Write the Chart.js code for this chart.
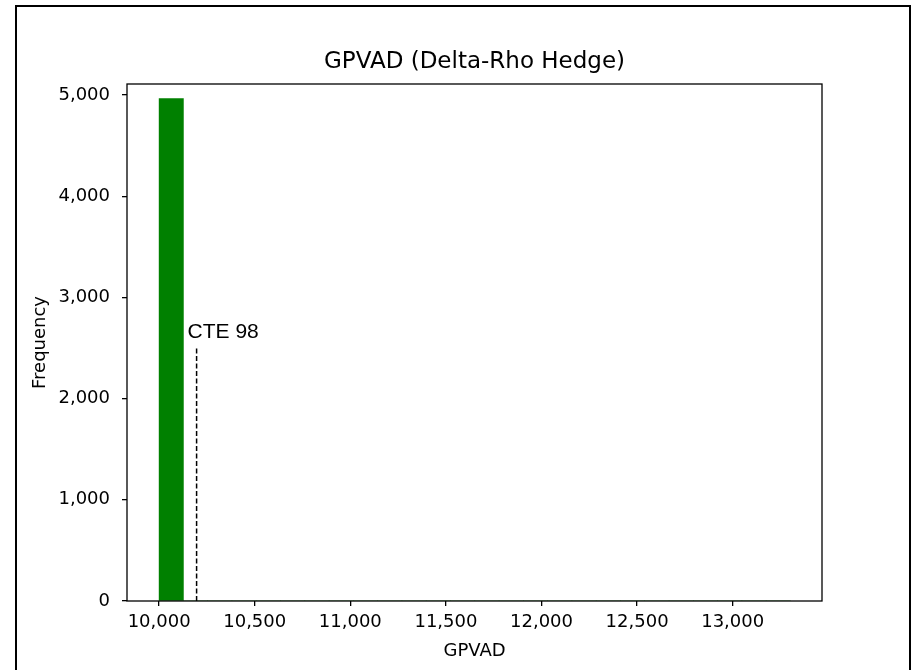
<!DOCTYPE html>
<html>
<head>
<meta charset="utf-8">
<title>GPVAD (Delta-Rho Hedge)</title>
<script src="https://cdn.jsdelivr.net/npm/chart.js@4.4.1/dist/chart.umd.min.js"></script>
<style>
  html, body { margin: 0; padding: 0; background: #ffffff; }
  #wrap { width: 914px; height: 670px; position: relative; }
</style>
</head>
<body>
<div id="wrap"><canvas id="chart-canvas" width="914" height="670"></canvas></div>
<script>
// ----- Histogram data -----
var TITLE = "GPVAD (Delta-Rho Hedge)";
var binStart = 10000;
var binWidth = 127;
// one count per bin, 26 bins from 10,000 to ~13,300 (only the first is visible)
var binCounts = [4965, 0, 0, 0, 0, 0, 0, 0, 0, 0, 0, 0, 0, 0, 0, 0, 0, 0, 0, 0, 0, 0, 0, 0, 0, 0];

// CTE 98 marker: x value and how high the dashed line reaches
var cteValue = [10196];
var cteHeight = [2513];
var cteLabel = ["CTE 98"];

// Axis ranges and ticks
var xMin = 9832, xMax = 13467;
var xTicks = [10000, 10500, 11000, 11500, 12000, 12500, 13000];
var yMin = 0, yMax = 5110;
var yTicks = [0, 1000, 2000, 3000, 4000, 5000];

var FONT = "'DejaVu Sans', sans-serif";

/**
 * Formats a number with thousands separators, like "10,000".
 */
function fmt(v) {
  return Number(v).toLocaleString("en-US");
}

// Bin centres for the bar dataset
var barPoints = binCounts.map(function(c, i) {
  return { x: binStart + binWidth * (i + 0.5), y: c };
});

var ctePoints = [
  { x: cteValue[0], y: 0 },
  { x: cteValue[0], y: cteHeight[0] },
];

// Draws the outer picture frame, the title over the plot box, the box itself and the CTE label
var framePlugin = {
  id: "frame",
  beforeDraw: function(chart) {
    var ctx = chart.ctx;
    ctx.save();
    ctx.fillStyle = "#ffffff";
    ctx.fillRect(0, 0, chart.width, chart.height);
    ctx.strokeStyle = "#000000";
    ctx.lineWidth = 2;
    ctx.strokeRect(16, 6, 894, chart.height + 20);
    ctx.restore();
  },
  afterDatasetsDraw: function(chart) {
    var ctx = chart.ctx;
    var a = chart.chartArea;
    ctx.save();
    ctx.strokeStyle = "#000000";
    ctx.lineWidth = 1.3;
    ctx.strokeRect(a.left, a.top, a.right - a.left, a.bottom - a.top);

    // title centred on the plot box, like matplotlib
    ctx.fillStyle = "#000000";
    ctx.font = "23px " + FONT;
    ctx.textAlign = "center";
    ctx.textBaseline = "middle";
    ctx.fillText(TITLE, (a.left + a.right) / 2, a.top - 22);

    // label just above-left of the top of the dashed line
    var px = chart.scales.x.getPixelForValue(cteValue[0]);
    var py = chart.scales.y.getPixelForValue(cteHeight[0]);
    ctx.font = "21px 'Liberation Sans', Arial, sans-serif";
    ctx.textAlign = "left";
    ctx.textBaseline = "alphabetic";
    ctx.fillText(cteLabel[0], px - 9, py - 9);
    ctx.restore();
  },
};

var ctx = document.getElementById("chart-canvas").getContext("2d");
var chartInstance = new Chart(ctx, {
  type: "bar",
  data: {
    datasets: [
      {
        type: "bar",
        label: "GPVAD",
        data: barPoints,
        backgroundColor: "#008000",
        borderWidth: 0,
        barPercentage: 1,
        categoryPercentage: 1,
        order: 2,
      },
      {
        type: "line",
        label: cteLabel[0],
        data: ctePoints,
        borderColor: "#000000",
        borderWidth: 1.5,
        borderDash: [5, 2.5],
        pointRadius: 0,
        fill: false,
        order: 1,
      },
    ],
  },
  options: {
    responsive: false,
    animation: false,
    layout: { padding: { left: 0, top: 84, right: 92, bottom: 0 } },
    plugins: {
      legend: { display: false },
      tooltip: { enabled: false },
      title: { display: false },
    },
    scales: {
      x: {
        type: "linear",
        min: xMin,
        max: xMax,
        offset: false,
        afterFit: function(scale) { scale.height = 69; },
        afterBuildTicks: function(scale) {
          scale.ticks = xTicks.map(function(v) { return { value: v }; });
        },
        grid: {
          offset: false,
          drawOnChartArea: false,
          drawTicks: true,
          tickLength: 5,
          tickColor: "#000000",
          lineWidth: 1.3,
        },
        border: { display: false },
        ticks: {
          color: "#000000",
          padding: 6,
          maxRotation: 0,
          autoSkip: false,
          font: { family: FONT, size: 18 },
          callback: function(v) { return fmt(v); },
        },
        title: {
          display: true,
          text: "GPVAD",
          color: "#000000",
          font: { family: FONT, size: 18 },
          padding: { top: 0, bottom: 8 },
        },
      },
      y: {
        min: yMin,
        max: yMax,
        beginAtZero: true,
        afterFit: function(scale) { scale.width = 127; },
        afterBuildTicks: function(scale) {
          scale.ticks = yTicks.map(function(v) { return { value: v }; });
        },
        grid: {
          drawOnChartArea: false,
          drawTicks: true,
          tickLength: 5,
          tickColor: "#000000",
          lineWidth: 1.3,
        },
        border: { display: false },
        ticks: {
          color: "#000000",
          padding: 12,
          autoSkip: false,
          font: { family: FONT, size: 18 },
          callback: function(v) { return fmt(v); },
        },
        title: {
          display: true,
          text: "Frequency",
          color: "#000000",
          font: { family: FONT, size: 18 },
          padding: { top: 30, bottom: 0 },
        },
      },
    },
  },
  plugins: [framePlugin],
});
</script>
</body>
</html>
